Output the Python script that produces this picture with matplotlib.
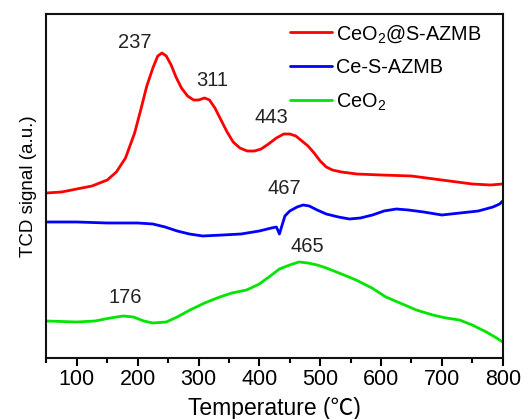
import matplotlib
matplotlib.use("Agg")
import matplotlib.pyplot as plt
from matplotlib.ticker import MultipleLocator, NullLocator

plt.rcParams['font.family'] = ['Liberation Sans', 'DejaVu Sans']
plt.rcParams['mathtext.fontset'] = 'custom'
plt.rcParams['mathtext.rm'] = 'Liberation Sans'
plt.rcParams['mathtext.it'] = 'Liberation Sans'

# CeO2@S-AZMB (red)
red_T = [50, 75, 100, 125, 150, 165, 180, 195, 205, 215, 225, 233, 240, 247, 255, 263,
         272, 282, 292, 300, 310, 318, 327, 337, 347, 357, 368, 380, 392, 403, 415,
         428, 440, 450, 460, 470, 480, 490, 500, 510, 520, 535, 560, 600, 650, 700,
         750, 780, 800]
red_v = [165, 166, 169, 172, 178, 186, 200, 225, 248, 272, 290, 302, 305, 302, 293, 281,
         270, 262, 258, 258, 260, 258, 250, 238, 226, 216, 210, 207, 207, 209, 214,
         220, 224, 224, 222, 217, 212, 205, 197, 191, 188, 186, 184, 183, 182, 178,
         174, 173, 174]

# Ce-S-AZMB (blue)
blue_T = [50, 100, 150, 200, 225, 245, 265, 285, 307, 340, 370, 400, 420, 428, 431,
          433, 436, 442, 450, 462, 472, 482, 495, 510, 530, 548, 566, 586, 605, 625,
          645, 670, 700, 715, 730, 760, 784, 795, 800]
blue_v = [136, 136, 135, 135, 134, 131, 127, 124, 122, 123, 124, 127, 130, 131, 127,
          124, 130, 142, 147, 151, 153, 152, 148, 144, 141, 139, 140, 143, 147, 149,
          148, 146, 143, 144, 145, 147, 151, 154, 157]

# CeO2 (green)
green_T = [50, 100, 130, 155, 176, 193, 210, 225, 247, 265, 286, 310, 335, 355, 379,
           400, 418, 433, 450, 465, 480, 495, 510, 535, 559, 585, 608, 635, 658, 685,
           707, 729, 750, 773, 790, 800]
green_v = [37, 36, 37, 40, 42, 41, 37, 35, 36, 41, 48, 55, 61, 65, 68,
           74, 82, 89, 93, 96, 95, 93, 90, 84, 78, 70, 61, 54, 48, 43,
           40, 38, 33, 26, 20, 16]

labels = ['CeO$_2$@S-AZMB', 'Ce-S-AZMB', 'CeO$_2$']
colors = ['#ff0000', '#0000ff', '#00e600']

peak_text = ['237', '311', '443', '467', '465', '176']
peak_T = [195, 323, 420, 441, 479, 179]
peak_v = [315, 277, 240, 169, 111, 60]

fig = plt.figure(figsize=(5.31, 4.19), dpi=100)
ax = fig.add_axes([0.0874, 0.1456, 0.8593, 0.821])

for T, v, lab, c in zip([red_T, blue_T, green_T], [red_v, blue_v, green_v], labels, colors):
    ax.plot(T, v, color=c, lw=2.0, label=lab, solid_joinstyle='round', solid_capstyle='round')

for t, x, y in zip(peak_text, peak_T, peak_v):
    ax.text(x, y, t, ha='center', va='center', fontsize=14.5, color='#222222')

ax.set_xlim(50, 800)
ax.set_ylim(0, 344)
ax.xaxis.set_major_locator(MultipleLocator(100))
ax.xaxis.set_minor_locator(MultipleLocator(50))
ax.yaxis.set_major_locator(NullLocator())
ax.tick_params(axis='x', which='major', direction='out', length=6, width=1.5, labelsize=15.5, pad=2)
ax.tick_params(axis='x', which='minor', direction='out', length=3.5, width=1.5)
for s in ax.spines.values():
    s.set_linewidth(1.5)
    s.set_color('#111111')

ax.set_xlabel('Temperature (℃)', fontsize=16.5, family=['Liberation Sans', 'Noto Sans CJK SC', 'DejaVu Sans'], labelpad=5)
ax.set_ylabel('TCD signal (a.u.)', fontsize=13.5, labelpad=7)

leg = ax.legend(loc='upper left', bbox_to_anchor=(0.515, 1.0), frameon=False, fontsize=14.3,
                handlelength=2.1, handletextpad=0.2, labelspacing=0.7, borderaxespad=0.05)

fig.savefig('out.png', dpi=100)
